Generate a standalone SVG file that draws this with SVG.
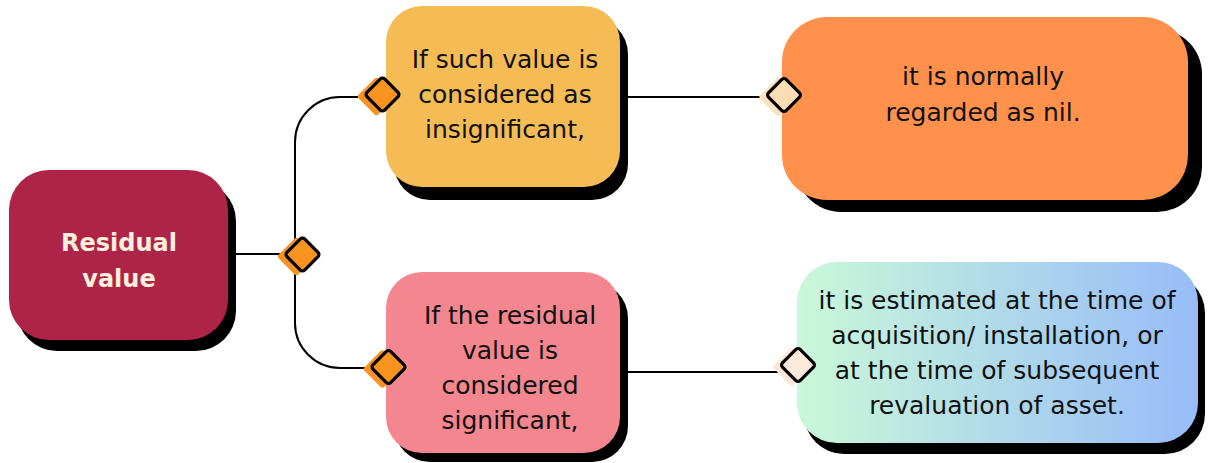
<svg xmlns="http://www.w3.org/2000/svg" width="1208" height="463" viewBox="0 0 1208 463">
  <defs>
    <linearGradient id="gradBlue" x1="0" y1="0" x2="1" y2="0">
      <stop offset="0" stop-color="#CAF8D9"/>
      <stop offset="1" stop-color="#97BCF9"/>
    </linearGradient>
  </defs>
  <style>
    .shadow { fill: #000000; }
    .txt { font-family: "DejaVu Sans", "Open Sans", sans-serif; font-size: 25px; fill: #111111; text-anchor: middle; }
    .title { font-family: "DejaVu Sans", "Open Sans", sans-serif; font-size: 24px; font-weight: bold; fill: #FDF0DC; text-anchor: middle; }
    .conn { fill: none; stroke: #000000; stroke-width: 2; }
    .dia { stroke: #000000; stroke-width: 3.2; }
  </style>
  <rect width="1208" height="463" fill="#FFFFFF"/>

  <g id="connectors">
    <path class="conn" d="M 236 254 H 285"/>
    <path class="conn" d="M 362 97 H 340 A 45 45 0 0 0 295 142 V 323 A 45 45 0 0 0 340 368 H 370"/>
    <path class="conn" d="M 628 97 H 766"/>
    <path class="conn" d="M 628 372 H 780"/>
  </g>

  <g id="node-residual">
    <rect class="shadow" x="17" y="181" width="219" height="170" rx="40"/>
    <rect x="9" y="170" width="219" height="170" rx="40" fill="#AE2448"/>
    <text class="title" x="119" y="251">Residual</text>
    <text class="title" x="119" y="287">value</text>
  </g>

  <g id="node-insignificant">
    <rect class="shadow" x="394" y="18" width="234" height="182" rx="36"/>
    <rect x="386" y="6" width="234" height="181" rx="36" fill="#F5BC55"/>
    <text class="txt" x="505" y="68">If such value is</text>
    <text class="txt" x="505" y="103">considered as</text>
    <text class="txt" x="505" y="138">insignificant,</text>
  </g>

  <g id="node-significant">
    <rect class="shadow" x="394" y="282" width="234" height="180" rx="36"/>
    <rect x="386" y="272" width="234" height="181" rx="36" fill="#F3868E"/>
    <text class="txt" x="510" y="324">If the residual</text>
    <text class="txt" x="510" y="359">value is</text>
    <text class="txt" x="510" y="394">considered</text>
    <text class="txt" x="510" y="429">significant,</text>
  </g>

  <g id="node-nil">
    <rect class="shadow" x="796" y="29" width="406" height="183" rx="45"/>
    <rect x="782" y="17" width="406" height="183" rx="45" fill="#FF914D"/>
    <text class="txt" x="983" y="85">it is normally</text>
    <text class="txt" x="983" y="121">regarded as nil.</text>
  </g>

  <g id="node-estimated">
    <rect class="shadow" x="804" y="273" width="401" height="181" rx="40"/>
    <rect x="797" y="262" width="401" height="181" rx="40" fill="url(#gradBlue)"/>
    <text class="txt" x="997" y="309">it is estimated at the time of</text>
    <text class="txt" x="997" y="344">acquisition/ installation, or</text>
    <text class="txt" x="997" y="379">at the time of subsequent</text>
    <text class="txt" x="997" y="414">revaluation of asset.</text>
  </g>

  <g id="ports">
    <g transform="translate(302.5 254.5)">
      <rect x="-14" y="-14" width="28" height="28" rx="3" fill="#F7931E" transform="translate(-6 2) rotate(45)"/>
      <rect class="dia" x="-12.5" y="-12.5" width="25" height="25" rx="3" fill="#F7931E" transform="rotate(45)"/>
    </g>
    <g transform="translate(382.5 94.5)">
      <rect x="-14" y="-14" width="28" height="28" rx="3" fill="#F7931E" transform="translate(-6 2) rotate(45)"/>
      <rect class="dia" x="-12.5" y="-12.5" width="25" height="25" rx="3" fill="#F7931E" transform="rotate(45)"/>
    </g>
    <g transform="translate(388.5 367)">
      <rect x="-14" y="-14" width="28" height="28" rx="3" fill="#F7931E" transform="translate(-6 2) rotate(45)"/>
      <rect class="dia" x="-12.5" y="-12.5" width="25" height="25" rx="3" fill="#F7931E" transform="rotate(45)"/>
    </g>
    <g transform="translate(784 95)">
      <rect x="-14" y="-14" width="28" height="28" rx="3" fill="#FBE2BC" transform="translate(-6 2) rotate(45)"/>
      <rect class="dia" x="-12.5" y="-12.5" width="25" height="25" rx="3" fill="#FADDB5" transform="rotate(45)"/>
    </g>
    <g transform="translate(798 365)">
      <rect x="-14" y="-14" width="28" height="28" rx="3" fill="#FDE6D6" transform="translate(-6 2) rotate(45)"/>
      <rect class="dia" x="-12.5" y="-12.5" width="25" height="25" rx="3" fill="#FFE9DB" transform="rotate(45)"/>
    </g>
  </g>
</svg>
